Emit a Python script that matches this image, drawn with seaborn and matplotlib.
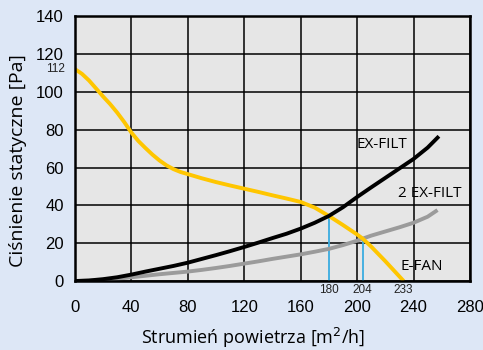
import matplotlib
matplotlib.use("Agg")
import matplotlib.pyplot as plt
import seaborn as sns
import pandas as pd

# Fan characteristic (E-FAN) and duct resistance curves, airflow [m3/h] vs pressure [Pa]
fan_x = [0, 5, 10, 16.5, 20, 25, 30, 35, 40, 45, 50, 55, 60, 65, 70, 75, 80, 90,
         100, 110, 120, 130, 140, 150, 160, 170, 180, 190, 200, 204, 210, 220, 233]
fan_y = [112, 109.5, 106, 100.5, 97.5, 93.5, 89, 84, 78.5, 74, 70.3, 66.8, 63.7,
         61.1, 59.1, 57.6, 56.5, 54.3, 52.3, 50.5, 48.8, 47.1, 45.3, 43.6, 41.8,
         38.8, 34.4, 29.6, 24.6, 22.4, 18.2, 10.5, 0]

filt_x = [0, 10, 20, 30, 40, 50, 60, 70, 80, 90, 100, 110, 120, 130, 140, 150,
          160, 170, 180, 190, 200, 210, 220, 230, 240, 250, 258]
filt_y = [0, 0.3, 1, 2, 3.4, 5, 6.5, 8, 9.7, 11.7, 13.7, 15.8, 18, 20.3, 22.7,
          25, 27.7, 30.8, 34.4, 39, 44.4, 49.5, 54.5, 59.5, 64.5, 70.5, 76.5]

filt2_x = [0, 10, 20, 30, 40, 50, 60, 70, 80, 90, 100, 110, 120, 130, 140, 150,
           160, 170, 180, 190, 200, 204, 210, 220, 230, 240, 250, 257]
filt2_y = [0, 0.2, 0.6, 1.2, 2, 2.8, 3.6, 4.3, 5, 5.9, 6.9, 8, 9.2, 10.4, 11.7,
           12.9, 14.1, 15.5, 17, 19, 21.3, 22.4, 24, 26.2, 28.4, 30.8, 34, 37.5]

# Operating points (fan curve crossing each resistance curve) and fan limits
op_x = [180, 204]
op_y = [34.4, 22.4]
fan_max_flow = 233
fan_max_pressure = 112

x_ticks = [0, 40, 80, 120, 160, 200, 240, 280]
y_ticks = [0, 20, 40, 60, 80, 100, 120, 140]

sns.set_theme(style="white")
plt.rcParams["font.family"] = ["Liberation Sans", "DejaVu Sans"]

fig = plt.figure(figsize=(4.83, 3.5), dpi=100, facecolor="#dde7f6")
ax = fig.add_axes([0.155, 0.197, 0.818, 0.757])
ax.set_facecolor("#e6e6e6")

fan = pd.DataFrame({"x": fan_x, "y": fan_y})
filt = pd.DataFrame({"x": filt_x, "y": filt_y})
filt2 = pd.DataFrame({"x": filt2_x, "y": filt2_y})

for ox, oy in zip(op_x, op_y):
    ax.plot([ox, ox], [0, oy], color="#3aace0", lw=1.3, zorder=3)

line_kw = dict(ax=ax, lw=2.8, estimator=None, sort=False,
               solid_joinstyle="round", solid_capstyle="butt")
sns.lineplot(data=filt2, x="x", y="y", color="#9b9b9b", zorder=4, **line_kw)
sns.lineplot(data=fan, x="x", y="y", color="#ffc600", zorder=5, **line_kw)
sns.lineplot(data=filt, x="x", y="y", color="black", zorder=6, **line_kw)

ax.set_xlim(0, 280)
ax.set_ylim(0, 140)
ax.set_xticks(x_ticks)
ax.set_yticks(y_ticks)
ax.grid(True, color="black", lw=1.1)
ax.set_axisbelow(True)
for sp in ax.spines.values():
    sp.set_color("black")
    sp.set_linewidth(1.8)
    sp.set_zorder(7)
ax.tick_params(axis="both", which="both", length=0, labelsize=12, colors="black")
ax.tick_params(axis="x", pad=14)
ax.tick_params(axis="y", pad=8)

sans = ["Open Sans", "DejaVu Sans"]
ax.set_ylabel("Ciśnienie statyczne [Pa]", fontsize=14, color="black",
              family=sans)
ax.yaxis.set_label_coords(-0.122, 0.455)
ax.set_xlabel("Strumień powietrza [m$^2$/h]", fontsize=13, color="black",
              family=sans, va="center")
ax.xaxis.set_label_coords(0.452, -0.215)

small = dict(fontsize=8.5, color="#222222", ha="center", va="top")
for v in op_x + [fan_max_flow]:
    ax.annotate(str(v), xy=(v, 0), xytext=(0, -2), textcoords="offset points",
                **small)
ax.annotate(str(fan_max_pressure), xy=(0, fan_max_pressure), xytext=(-7, 0),
            textcoords="offset points", fontsize=8.5, color="#222222",
            ha="right", va="center")

lab = dict(fontsize=11, color="black", family=sans)
ax.text(235.5, 72, "EX-FILT", ha="right", va="center", **lab)
ax.text(274, 46, "2 EX-FILT", ha="right", va="center", **lab)
ax.text(230.5, 7.5, "E-FAN", ha="left", va="center", **lab)

fig.savefig("out.png", dpi=100, facecolor=fig.get_facecolor())
